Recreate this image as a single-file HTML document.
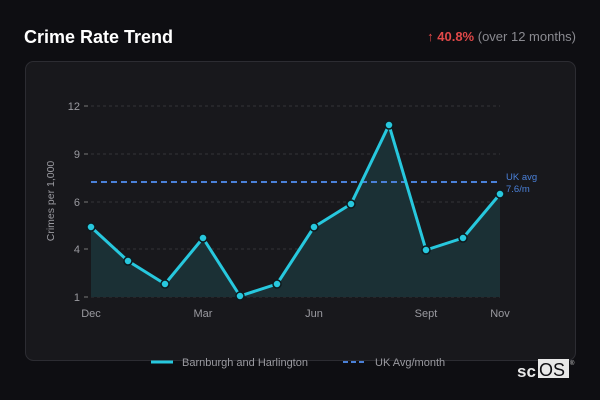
<!DOCTYPE html>
<html><head><meta charset="utf-8"><style>
body{margin:0;width:600px;height:400px;background:#0e0e12;font-family:"Liberation Sans","DejaVu Sans",sans-serif;overflow:hidden;position:relative}
</style></head><body>
<svg width="600" height="400" style="position:absolute;left:0;top:0" font-family="Liberation Sans, DejaVu Sans, sans-serif">
<text x="24" y="43" fill="#fff" font-size="18" font-weight="bold">Crime Rate Trend</text>
<text x="576" y="41" text-anchor="end" font-size="13"><tspan fill="#e04848">↑ </tspan><tspan fill="#e04848" font-weight="bold">40.8%</tspan><tspan fill="#8a8a90"> (over 12 months)</tspan></text>
<rect x="25.5" y="61.5" width="550" height="299" rx="8" fill="#18181c" stroke="#2c2c32"/>
<g stroke="#333338" stroke-dasharray="3,3" stroke-width="1">
<line x1="91" y1="106" x2="500" y2="106"/><line x1="91" y1="154" x2="500" y2="154"/><line x1="91" y1="202" x2="500" y2="202"/><line x1="91" y1="249" x2="500" y2="249"/><line x1="91" y1="297" x2="500" y2="297"/>
</g>
<g fill="#9a9aa0" font-size="11" text-anchor="end">
<text x="80" y="110">12</text><text x="80" y="158">9</text><text x="80" y="206">6</text><text x="80" y="253">4</text><text x="80" y="301">1</text>
</g>
<g stroke="#777" stroke-width="1"><line x1="84" y1="106" x2="88" y2="106"/><line x1="84" y1="154" x2="88" y2="154"/><line x1="84" y1="202" x2="88" y2="202"/><line x1="84" y1="249" x2="88" y2="249"/><line x1="84" y1="297" x2="88" y2="297"/></g>
<text transform="translate(54,201) rotate(-90)" fill="#9a9aa0" font-size="10.5" text-anchor="middle">Crimes per 1,000</text>
<g fill="#9a9aa0" font-size="11" text-anchor="middle">
<text x="91" y="317">Dec</text><text x="203" y="317">Mar</text><text x="314" y="317">Jun</text><text x="426" y="317">Sept</text><text x="500" y="317">Nov</text>
</g>
<polygon points="91,297 91,227 128,261 165,284 203,238 240,296 277,284 314,227 351,204 389,125 426,250 463,238 500,194 500,297" fill="#1b3035"/>
<line x1="91" y1="182" x2="500" y2="182" stroke="#4a80d8" stroke-width="2" stroke-dasharray="6,4"/>
<text x="506" y="180" fill="#4a80d8" font-size="9.5">UK avg</text>
<text x="506" y="192" fill="#4a80d8" font-size="9.5">7.6/m</text>
<polyline points="91,227 128,261 165,284 203,238 240,296 277,284 314,227 351,204 389,125 426,250 463,238 500,194" fill="none" stroke="#27c8de" stroke-width="3" stroke-linejoin="round"/>
<g fill="#27c8de" stroke="#0e1a1e" stroke-width="1.5">
<circle cx="91" cy="227" r="4"/><circle cx="128" cy="261" r="4"/><circle cx="165" cy="284" r="4"/><circle cx="203" cy="238" r="4"/><circle cx="240" cy="296" r="4"/><circle cx="277" cy="284" r="4"/><circle cx="314" cy="227" r="4"/><circle cx="351" cy="204" r="4"/><circle cx="389" cy="125" r="4"/><circle cx="426" cy="250" r="4"/><circle cx="463" cy="238" r="4"/><circle cx="500" cy="194" r="4"/>
</g>
<line x1="151" y1="362" x2="173" y2="362" stroke="#27c8de" stroke-width="3"/>
<text x="182" y="366" fill="#9a9aa0" font-size="11">Barnburgh and Harlington</text>
<line x1="343" y1="362" x2="367" y2="362" stroke="#4a80d8" stroke-width="2" stroke-dasharray="5,3"/>
<text x="375" y="366" fill="#9a9aa0" font-size="11">UK Avg/month</text>
<text x="517" y="377" fill="#e8e8e8" font-size="17" font-weight="bold">sc</text>
<rect x="538" y="359" width="31" height="19" fill="#e8e8e8"/>
<text x="539" y="376" fill="#0e0e12" font-size="18">OS</text>
<text x="570" y="365" fill="#ccc" font-size="6">®</text>
</svg>
</body></html>
